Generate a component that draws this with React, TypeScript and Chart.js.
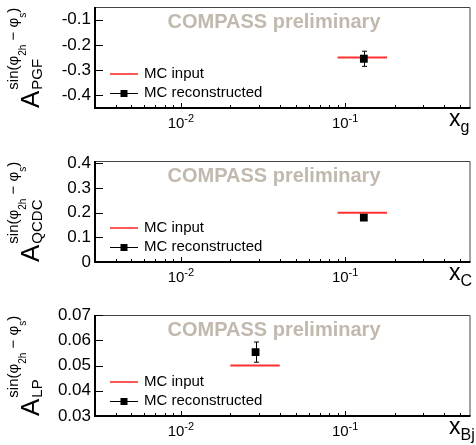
import React, { useEffect, useRef } from 'react';
import { Chart, registerables } from 'chart.js';

Chart.register(...registerables);

// ---- data ----
const panelLabels = ['PGF', 'QCDC', 'LP'];
const xSubscripts = ['g', 'C', 'Bj'];
const legendLabels = ['MC input', 'MC reconstructed'];
const watermark = 'COMPASS preliminary';

const inputXLow = [0.09, 0.09, 0.02];
const inputXHigh = [0.18, 0.18, 0.04];
const inputValue = [-0.25, 0.2, 0.05];

const recoX = [0.13, 0.13, 0.0285];
const recoValue = [-0.255, 0.18, 0.0553];
const recoError = [0.03, 0.008, 0.004];

const yMin = [-0.45, 0, 0.03];
const yMax = [-0.05, 0.41, 0.07];
const yTickValues = [
  [-0.4, -0.3, -0.2, -0.1],
  [0, 0.1, 0.2, 0.3, 0.4],
  [0.03, 0.04, 0.05, 0.06, 0.07],
];
const yTickLabels = [
  ['-0.4', '-0.3', '-0.2', '-0.1'],
  ['0', '0.1', '0.2', '0.3', '0.4'],
  ['0.03', '0.04', '0.05', '0.06', '0.07'],
];

const xMin = 0.003;
const xMax = 0.58;
const xTickValues = [0.01, 0.1];
const xTickExponents = ['-2', '-1'];
const minorDecades = [0.001, 0.01, 0.1];
const minorMultipliers = [2, 3, 4, 5, 6, 7, 8, 9];

const FONT = '"Liberation Sans", Arial, Helvetica, sans-serif';
const PANEL_H = 154;

function makePlugin(i: number) {
  return {
    id: 'rootStyle' + i,
    afterDatasetsDraw(chart: any) {
      const ctx = chart.ctx as CanvasRenderingContext2D;
      const xs = chart.scales.x;
      const ys = chart.scales.y;
      // error bar
      const px = Math.round(xs.getPixelForValue(recoX[i])) + 0.5;
      const yt = ys.getPixelForValue(recoValue[i] + recoError[i]);
      const yb = ys.getPixelForValue(recoValue[i] - recoError[i]);
      ctx.save();
      ctx.strokeStyle = '#000';
      ctx.lineWidth = 1;
      ctx.beginPath();
      ctx.moveTo(px, yt);
      ctx.lineTo(px, yb);
      ctx.moveTo(px - 2.5, yt);
      ctx.lineTo(px + 2.5, yt);
      ctx.moveTo(px - 2.5, yb);
      ctx.lineTo(px + 2.5, yb);
      ctx.stroke();
      ctx.restore();
    },
    afterDraw(chart: any) {
      const ctx = chart.ctx as CanvasRenderingContext2D;
      const area = chart.chartArea;
      const xs = chart.scales.x;
      const ys = chart.scales.y;
      ctx.save();

      // frame
      ctx.strokeStyle = '#444';
      ctx.lineWidth = 1;
      ctx.beginPath();
      ctx.moveTo(area.left, area.top + 0.5);
      ctx.lineTo(area.right - 0.5, area.top + 0.5);
      ctx.lineTo(area.right - 0.5, area.bottom);
      ctx.stroke();
      ctx.strokeStyle = '#000';
      ctx.lineWidth = 2;
      ctx.beginPath();
      ctx.moveTo(area.left, area.top);
      ctx.lineTo(area.left, area.bottom);
      ctx.lineTo(area.right, area.bottom);
      ctx.stroke();

      // y ticks (inside)
      ctx.lineWidth = 1;
      ctx.beginPath();
      for (const v of yTickValues[i]) {
        const py = Math.round(ys.getPixelForValue(v)) + 0.5;
        ctx.moveTo(area.left, py);
        ctx.lineTo(area.left + 8, py);
      }
      // x ticks (inside)
      for (const v of xTickValues) {
        const p = Math.round(xs.getPixelForValue(v)) + 0.5;
        ctx.moveTo(p, area.bottom);
        ctx.lineTo(p, area.bottom - 5);
      }
      for (const d of minorDecades) {
        for (const m of minorMultipliers) {
          const v = d * m;
          if (v <= xMin || v >= xMax) continue;
          const p = Math.round(xs.getPixelForValue(v)) + 0.5;
          ctx.moveTo(p, area.bottom);
          ctx.lineTo(p, area.bottom - 3);
        }
      }
      ctx.stroke();

      // x tick labels 10^n
      ctx.fillStyle = '#000';
      ctx.textBaseline = 'alphabetic';
      ctx.textAlign = 'left';
      xTickValues.forEach((v, k) => {
        const p = xs.getPixelForValue(v);
        ctx.font = '15px ' + FONT;
        const w1 = ctx.measureText('10').width;
        ctx.font = '11px ' + FONT;
        const w2 = ctx.measureText(xTickExponents[k]).width;
        const start = p - (w1 + w2) / 2;
        ctx.font = '15px ' + FONT;
        ctx.fillText('10', start, area.bottom + 20);
        ctx.font = '11px ' + FONT;
        ctx.fillText(xTickExponents[k], start + w1, area.bottom + 14);
      });

      // x title
      ctx.font = '23px ' + FONT;
      ctx.fillText('x', 449, area.bottom + 18);
      const xw = ctx.measureText('x').width;
      ctx.font = '16px ' + FONT;
      ctx.fillText(xSubscripts[i], 449 + xw, area.bottom + 24);

      // y title (rotated)
      ctx.save();
      ctx.translate(39, area.bottom);
      ctx.rotate(-Math.PI / 2);
      ctx.font = '26px ' + FONT;
      ctx.fillText('A', 0, 0);
      const aw = ctx.measureText('A').width;
      ctx.font = '15px ' + FONT;
      ctx.fillText(panelLabels[i], aw + 1, 3);
      const parts: [string, number, number][] = [
        ['sin(\u03c6', 15, 0],
        ['2h', 10, 8],
        [' \u2212 \u03c6', 15, 0],
        ['s', 10, 8],
        [')', 15, 0],
      ];
      let tx = aw + 1;
      for (const [t, size, dy] of parts) {
        ctx.font = size + 'px ' + FONT;
        ctx.fillText(t, tx, -21 + dy);
        tx += ctx.measureText(t).width;
      }
      ctx.restore();

      // watermark
      ctx.font = 'bold 20px ' + FONT;
      ctx.fillStyle = '#c1b9ae';
      ctx.textAlign = 'center';
      ctx.fillText(watermark, 274, area.top + 21);

      // legend
      const lx = area.left + 15;
      const r1 = area.top + 67;
      const r2 = area.top + 86;
      ctx.strokeStyle = '#ff2020';
      ctx.lineWidth = 1.5;
      ctx.beginPath();
      ctx.moveTo(lx, r1);
      ctx.lineTo(lx + 28, r1);
      ctx.stroke();
      ctx.strokeStyle = '#000';
      ctx.lineWidth = 1;
      ctx.beginPath();
      ctx.moveTo(lx, r2 + 0.5);
      ctx.lineTo(lx + 28, r2 + 0.5);
      ctx.stroke();
      ctx.fillStyle = '#000';
      ctx.fillRect(lx + 14 - 3.5, r2 - 3, 7, 7);
      ctx.font = '15px ' + FONT;
      ctx.textAlign = 'left';
      ctx.textBaseline = 'middle';
      ctx.fillText(legendLabels[0], lx + 34, r1);
      ctx.fillText(legendLabels[1], lx + 34, r2);

      ctx.restore();
    },
  };
}

function Panel({ index }: { index: number }) {
  const ref = useRef<HTMLCanvasElement | null>(null);
  useEffect(() => {
    if (!ref.current) return;
    const i = index;
    const chart = new Chart(ref.current, {
      type: 'scatter',
      data: {
        datasets: [
          {
            label: legendLabels[1],
            data: [{ x: recoX[i], y: recoValue[i] }],
            pointStyle: 'rect',
            pointRadius: 5.5,
            backgroundColor: '#000',
            borderColor: '#000',
            borderWidth: 0,
            showLine: false,
            order: 0,
          },
          {
            label: legendLabels[0],
            data: [
              { x: inputXLow[i], y: inputValue[i] },
              { x: inputXHigh[i], y: inputValue[i] },
            ],
            showLine: true,
            borderColor: '#ff3030',
            borderWidth: 2,
            pointRadius: 0,
            order: 1,
          },
        ],
      },
      options: {
        animation: false,
        responsive: false,
        devicePixelRatio: 1,
        layout: { padding: { top: 7, right: 2, left: 0, bottom: 0 } },
        plugins: { legend: { display: false }, tooltip: { enabled: false } },
        scales: {
          x: {
            type: 'logarithmic',
            min: xMin,
            max: xMax,
            ticks: { display: false },
            grid: { display: false, drawTicks: false },
            border: { display: false },
            afterFit: (s: any) => {
              s.height = 46;
              s.paddingLeft = 0;
              s.paddingRight = 0;
            },
          },
          y: {
            type: 'linear',
            min: yMin[i],
            max: yMax[i],
            afterBuildTicks: (s: any) => {
              s.ticks = yTickValues[i].map((v) => ({ value: v }));
            },
            ticks: {
              padding: 4,
              color: '#000',
              font: { size: 17, family: FONT },
              callback: (_v: any, idx: number) => yTickLabels[i][idx],
            },
            grid: { display: false, drawTicks: false },
            border: { display: false },
            afterFit: (s: any) => {
              s.width = 95;
              s.paddingTop = 0;
              s.paddingBottom = 0;
            },
          },
        },
      } as any,
      plugins: [makePlugin(i)],
    });
    return () => chart.destroy();
  }, [index]);
  return (
    <canvas
      ref={ref}
      width={476}
      height={PANEL_H}
      style={{ position: 'absolute', left: 0, top: index * PANEL_H, display: 'block' }}
    />
  );
}

export default function App() {
  useEffect(() => {
    document.body.style.margin = '0';
    document.body.style.background = '#fff';
  }, []);
  return (
    <div style={{ position: 'relative', width: 476, height: 445, overflow: 'hidden', background: '#fff' }}>
      {[0, 1, 2].map((k) => (
        <Panel key={k} index={k} />
      ))}
    </div>
  );
}
